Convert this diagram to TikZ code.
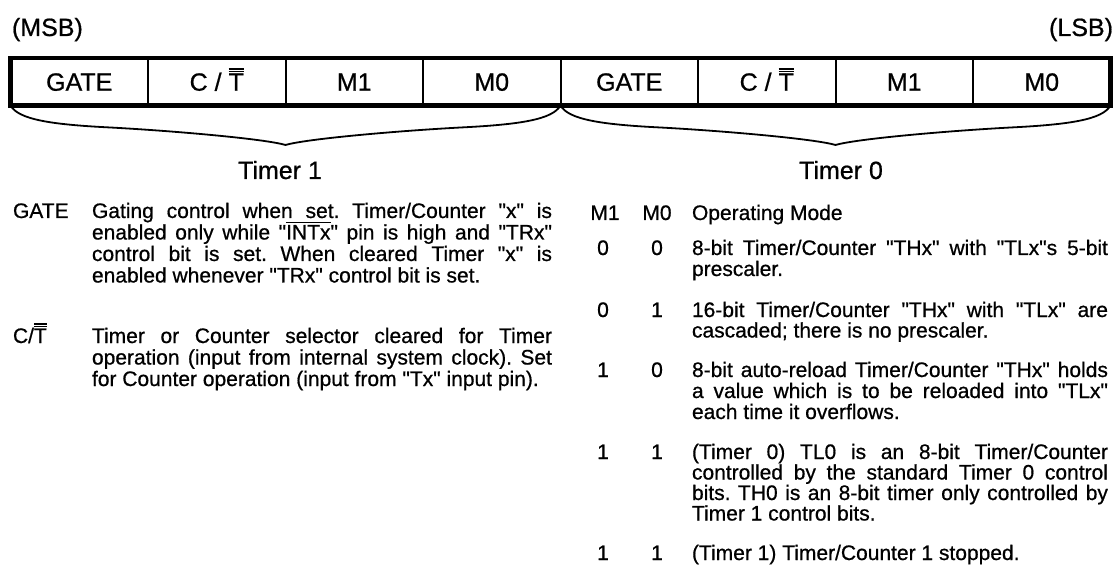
\documentclass[tikz,border=0pt]{standalone}
\usepackage{fontspec}
\setmainfont{Liberation Sans}[Ligatures=TeXOff, FakeBold=0.7]
\usetikzlibrary{calc}
\frenchspacing
\newcommand\ovl[1]{\vbox{\hrule height 1.3pt\kern 1.6pt\hbox{#1}}}
\newcommand\dovl[1]{\vbox{\hrule height 1.2pt\kern 1.1pt\hrule height 1.2pt\kern 1.6pt\hbox{#1}}}
\newcommand\jL[1]{\makebox[460pt][s]{#1}}
\newcommand\jR[1]{\makebox[416pt][s]{#1}}
\begin{document}
\begin{tikzpicture}[x=1pt,y=-1pt,
  big/.style={font=\fontsize{25}{27}\selectfont, inner sep=0pt, outer sep=0pt},
  body/.style={font=\fontsize{21}{22}\selectfont, inner sep=0pt, outer sep=0pt, anchor=base west},
  digit/.style={body, anchor=base},
  cell/.style={draw, line width=2pt, minimum width=137.5pt, minimum height=47.5pt,
    inner sep=0pt, outer sep=0pt, font=\fontsize{25}{27}\selectfont, text height=17.9pt, text depth=0pt},
  brace/.style={line width=1.8pt, line join=round, line cap=round}]
\fill[white] (0,0) rectangle (1116,577);
\useasboundingbox (0,0) rectangle (1116,577);

% MSB / LSB
\node[big, anchor=base west] (msb) at (12,36) {(MSB)};
\node[big, anchor=base east] (lsb) at (1113,36) {(LSB)};

% register cells
\node[cell] (r7) at (79.25,81.75) {GATE};
\node[cell] (r6) at (216.75,81.75) {C / \dovl{T}};
\node[cell] (r5) at (354.25,81.75) {M1};
\node[cell] (r4) at (491.75,81.75) {M0};
\node[cell] (r3) at (629.25,81.75) {GATE};
\node[cell] (r2) at (766.75,81.75) {C / \dovl{T}};
\node[cell] (r1) at (904.25,81.75) {M1};
\node[cell] (r0) at (1041.75,81.75) {M0};
\draw[line width=4.5pt] (r7.north west) rectangle (r0.south east);

% braces
\coordinate (t1) at (285.5,145);
\coordinate (t0) at (835.5,145);
\draw[brace] (r7.south west)
  .. controls ($(r7.south west)+(8,14)$) and ($(r7.south west)+(40,19)$) .. ($(r7.south west)+(100,22)$)
  .. controls ($(t1)+(-110,-14)$) and ($(t1)+(-20,-6)$) .. (t1)
  .. controls ($(t1)+(20,-6)$) and ($(t1)+(110,-14)$) .. ($(r4.south east)+(-100,22)$)
  .. controls ($(r4.south east)+(-40,19)$) and ($(r4.south east)+(-8,14)$) .. (r4.south east);
\draw[brace] (r3.south west)
  .. controls ($(r3.south west)+(8,14)$) and ($(r3.south west)+(40,19)$) .. ($(r3.south west)+(100,22)$)
  .. controls ($(t0)+(-110,-14)$) and ($(t0)+(-20,-6)$) .. (t0)
  .. controls ($(t0)+(20,-6)$) and ($(t0)+(110,-14)$) .. ($(r0.south east)+(-100,22)$)
  .. controls ($(r0.south east)+(-40,19)$) and ($(r0.south east)+(-8,14)$) .. (r0.south east);

\node[big, anchor=base] (tm1) at (280,179) {Timer 1};
\node[big, anchor=base] (tm0) at (841,179) {Timer 0};

% left column
\node[body] (lg) at (13,218) {GATE};
\node[body] (g1) at (92,218) {\jL{Gating control when set. Timer/Counter "x" is}};
\node[body] (g2) at (92,239.5) {\jL{enabled only while "\ovl{INTx}" pin is high and "TRx"}};
\node[body] (g3) at (92,261) {\jL{control bit is set. When cleared Timer "x" is}};
\node[body] (g4) at (92,282.5) {enabled whenever "TRx" control bit is set.};
\node[body] (lc) at (13,343) {C/\dovl{T}};
\node[body] (c1) at (92,343) {\jL{Timer or Counter selector cleared for Timer}};
\node[body] (c2) at (92,364.5) {\jL{operation (input from internal system clock). Set}};
\node[body] (c3) at (92,386) {for Counter operation (input from "Tx" input pin).};

% right column
\node[digit] (hm1) at (605,220) {M1};
\node[digit] (hm0) at (657,220) {M0};
\node[body] (hop) at (692,220) {Operating Mode};

\node[digit] (a1) at (603,255) {0};
\node[digit] (a0) at (657,255) {0};
\node[body] (m0a) at (692,255) {\jR{8-bit Timer/Counter "THx" with "TLx"s 5-bit}};
\node[body] (m0b) at (692,276) {prescaler.};

\node[digit] (b1) at (603,317) {0};
\node[digit] (b0) at (657,317) {1};
\node[body] (m1a) at (692,317) {\jR{16-bit Timer/Counter "THx" with "TLx" are}};
\node[body] (m1b) at (692,337.5) {cascaded; there is no prescaler.};

\node[digit] (c1d) at (603,377) {1};
\node[digit] (c0d) at (657,377) {0};
\node[body] (m2a) at (692,377) {\jR{8-bit auto-reload Timer/Counter "THx" holds}};
\node[body] (m2b) at (692,398) {\jR{a value which is to be reloaded into "TLx"}};
\node[body] (m2c) at (692,419) {each time it overflows.};

\node[digit] (d1) at (603,459) {1};
\node[digit] (d0) at (657,459) {1};
\node[body] (m3a) at (692,459) {\jR{(Timer 0) TL0 is an 8-bit Timer/Counter}};
\node[body] (m3b) at (692,479.5) {\jR{controlled by the standard Timer 0 control}};
\node[body] (m3c) at (692,500) {\jR{bits. TH0 is an 8-bit timer only controlled by}};
\node[body] (m3d) at (692,520.5) {Timer 1 control bits.};

\node[digit] (e1) at (603,560) {1};
\node[digit] (e0) at (657,560) {1};
\node[body] (m4a) at (692,560) {(Timer 1) Timer/Counter 1 stopped.};
\end{tikzpicture}
\end{document}
